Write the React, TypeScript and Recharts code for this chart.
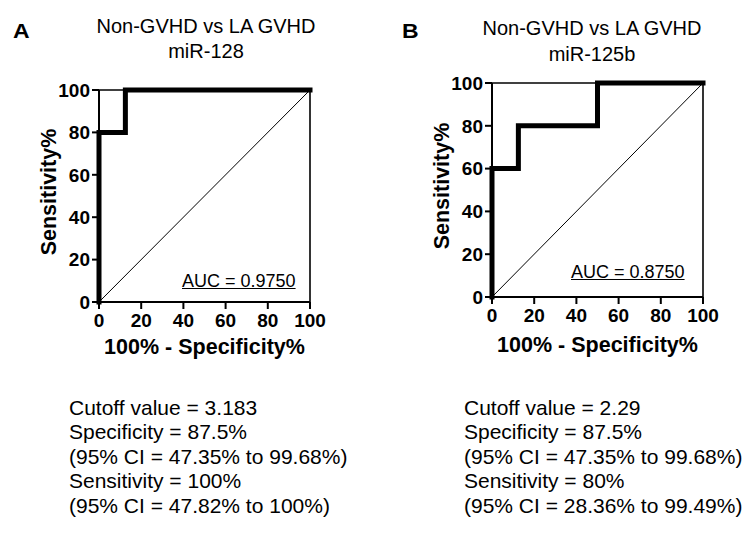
import React from 'react';
import { ComposedChart, Line, XAxis, YAxis, Label } from 'recharts';

const FONT = '"Liberation Sans", Arial, Helvetica, sans-serif';

// Tick values
const axisTicks = [0, 20, 40, 60, 80, 100];
const mirrorTicks = [20, 40, 60, 80];

// Panel A: miR-128 ROC curve (100% - Specificity%, Sensitivity%)
const specA = [0, 0, 12.5, 12.5, 100];
const sensA = [0, 80, 80, 100, 100];

// Panel B: miR-125b ROC curve
const specB = [0, 0, 12.5, 12.5, 50, 50, 100];
const sensB = [0, 60, 60, 80, 80, 100, 100];

// Line of identity
const chanceX = [0, 100];
const chanceY = [0, 100];

// Texts
const panelLetters = ['A', 'B'];
const titlesA = ['Non-GVHD vs LA GVHD', 'miR-128'];
const titlesB = ['Non-GVHD vs LA GVHD', 'miR-125b'];
const aucA = 'AUC = 0.9750';
const aucB = 'AUC = 0.8750';
const statsA = [
  'Cutoff value = 3.183',
  'Specificity = 87.5%',
  '(95% CI = 47.35% to 99.68%)',
  'Sensitivity = 100%',
  '(95% CI = 47.82% to 100%)',
];
const statsB = [
  'Cutoff value = 2.29',
  'Specificity = 87.5%',
  '(95% CI = 47.35% to 99.68%)',
  'Sensitivity = 80%',
  '(95% CI = 28.36% to 99.49%)',
];
const xTitle = '100% - Specificity%';
const yTitle = 'Sensitivity%';

type Margin = { top: number; right: number; bottom: number; left: number };

function RocChart(props: {
  spec: number[];
  sens: number[];
  width: number;
  height: number;
  margin: Margin;
  xTitleOffset: number;
}) {
  const { spec, sens, width, height, margin, xTitleOffset } = props;
  const roc = spec.map((x, i) => ({ x, y: sens[i] }));
  const chance = chanceX.map((x, i) => ({ x, y: chanceY[i] }));
  const tickStyle = { fontSize: 19, fontWeight: 700, fill: '#000', fontFamily: FONT };
  const thick = { stroke: '#000', strokeWidth: 2 };
  const thin = { stroke: '#000', strokeWidth: 1.6 };
  return (
    <ComposedChart width={width} height={height} margin={margin}>
      <XAxis
        xAxisId="b"
        dataKey="x"
        type="number"
        domain={[0, 100]}
        ticks={axisTicks}
        interval={0}
        tick={tickStyle}
        tickSize={7}
        tickMargin={5}
        axisLine={thick}
        tickLine={thick}
        height={60}
      >
        <Label
          value={xTitle}
          position="insideBottom"
          offset={xTitleOffset}
          fontSize={21.5}
          fontWeight={700}
          fill="#000"
          fontFamily={FONT}
        />
      </XAxis>
      <XAxis
        xAxisId="t"
        orientation="top"
        mirror
        dataKey="x"
        type="number"
        domain={[0, 100]}
        ticks={mirrorTicks}
        interval={0}
        tick={false}
        tickSize={7}
        axisLine={thin}
        tickLine={thin}
      />
      <YAxis
        yAxisId="l"
        type="number"
        domain={[0, 100]}
        ticks={axisTicks}
        interval={0}
        tick={tickStyle}
        tickSize={7}
        tickMargin={2}
        axisLine={thick}
        tickLine={thick}
        width={60}
      >
        <Label
          value={yTitle}
          angle={-90}
          position="center"
          dx={-21}
          dy={-4}
          fontSize={21.5}
          fontWeight={700}
          fill="#000"
          fontFamily={FONT}
        />
      </YAxis>
      <YAxis
        yAxisId="r"
        orientation="right"
        mirror
        type="number"
        domain={[0, 100]}
        ticks={mirrorTicks}
        interval={0}
        tick={false}
        tickSize={7}
        axisLine={thin}
        tickLine={thin}
      />
      <Line
        xAxisId="b"
        yAxisId="l"
        data={chance}
        dataKey="y"
        type="linear"
        stroke="#000"
        strokeWidth={1}
        dot={false}
        activeDot={false}
        isAnimationActive={false}
      />
      <Line
        xAxisId="b"
        yAxisId="l"
        data={roc}
        dataKey="y"
        type="linear"
        stroke="#000"
        strokeWidth={5}
        strokeLinejoin="miter"
        strokeLinecap="square"
        dot={false}
        activeDot={false}
        isAnimationActive={false}
      />
    </ComposedChart>
  );
}

const abs = (left: number, top: number): React.CSSProperties => ({
  position: 'absolute',
  left,
  top,
  whiteSpace: 'nowrap',
});

export default function App() {
  return (
    <div
      style={{
        position: 'absolute',
        left: 0,
        top: 0,
        width: 750,
        height: 534,
        overflow: 'hidden',
        background: '#fff',
        fontFamily: FONT,
        color: '#000',
      }}
    >
      {/* Panel A chart */}
      <div style={abs(0, 0)}>
        <RocChart
          spec={specA}
          sens={sensA}
          width={340}
          height={370}
          margin={{ top: 90, right: 30, bottom: 8, left: 39 }}
          xTitleOffset={8}
        />
      </div>
      {/* Panel B chart */}
      <div style={abs(380, 0)}>
        <RocChart
          spec={specB}
          sens={sensB}
          width={360}
          height={370}
          margin={{ top: 83, right: 37, bottom: 13, left: 52 }}
          xTitleOffset={5}
        />
      </div>

      {/* Panel letters */}
      <div
        style={{
          ...abs(13, 20.5),
          fontSize: 20,
          lineHeight: '20px',
          fontWeight: 700,
          transform: 'scaleX(1.15)',
          transformOrigin: 'left top',
        }}
      >
        {panelLetters[0]}
      </div>
      <div
        style={{
          ...abs(402, 20.5),
          fontSize: 20,
          lineHeight: '20px',
          fontWeight: 700,
          transform: 'scaleX(1.15)',
          transformOrigin: 'left top',
        }}
      >
        {panelLetters[1]}
      </div>

      {/* Titles */}
      <div style={{ ...abs(56, 14), width: 300, textAlign: 'center', fontSize: 20, lineHeight: '25px' }}>
        {titlesA.map((t) => (
          <div key={t}>{t}</div>
        ))}
      </div>
      <div style={{ ...abs(442, 16), width: 300, textAlign: 'center', fontSize: 20, lineHeight: '25.5px' }}>
        {titlesB.map((t) => (
          <div key={t}>{t}</div>
        ))}
      </div>

      {/* AUC annotations */}
      <div style={{ ...abs(182, 271.5), fontSize: 18, lineHeight: '18px', textDecoration: 'underline' }}>{aucA}</div>
      <div style={{ ...abs(571, 262.5), fontSize: 18, lineHeight: '18px', textDecoration: 'underline' }}>{aucB}</div>

      {/* Stats */}
      <div style={{ ...abs(69, 395.5), fontSize: 21, lineHeight: '24.5px' }}>
        {statsA.map((t, i) => (
          <div key={i}>{t}</div>
        ))}
      </div>
      <div style={{ ...abs(464, 395.5), fontSize: 21, lineHeight: '24.5px' }}>
        {statsB.map((t, i) => (
          <div key={i}>{t}</div>
        ))}
      </div>
    </div>
  );
}
